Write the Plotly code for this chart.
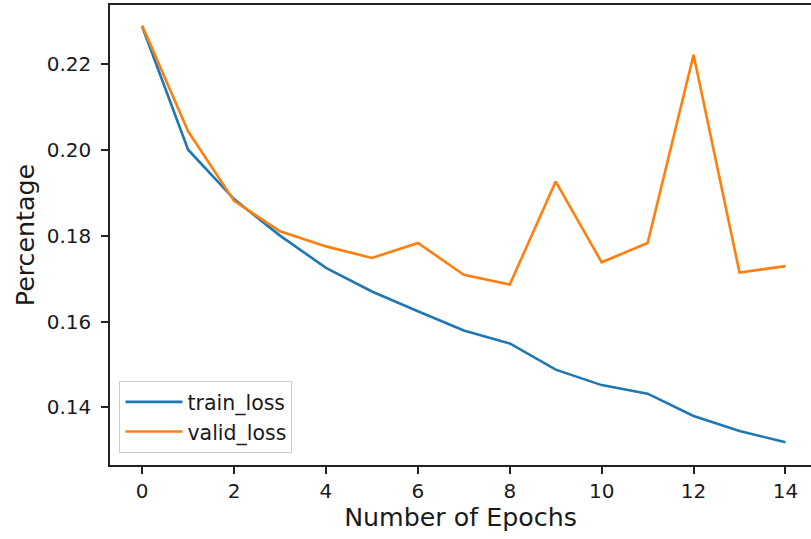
import plotly.graph_objects as go

# Loss per epoch
epochs = list(range(15))
train_loss = [0.2287, 0.2000, 0.1885, 0.1800, 0.1725, 0.1670, 0.1624, 0.1579,
              0.1549, 0.1488, 0.1452, 0.1432, 0.1380, 0.1345, 0.1319]
valid_loss = [0.2289, 0.2043, 0.1881, 0.1810, 0.1775, 0.1748, 0.1783, 0.1709,
              0.1686, 0.1926, 0.1738, 0.1783, 0.2221, 0.1714, 0.1729]
y_ticks = [0.14, 0.16, 0.18, 0.20, 0.22]
x_ticks = [0, 2, 4, 6, 8, 10, 12, 14]

W, H = 811, 539
L_MARGIN, T_MARGIN, B_MARGIN = 110, 5, 74
PX_PER_EPOCH = 45.95

# 5% padding on the left of the epoch range; right side runs to the page edge
x_lo = -0.05 * (max(epochs) - min(epochs))
x_hi = x_lo + (W - L_MARGIN) / PX_PER_EPOCH

FONT = "DejaVu Sans"
TXT = "#1a1a1a"

fig = go.Figure()
fig.add_trace(go.Scatter(x=epochs, y=train_loss, mode="lines", name="train_loss",
                         legendgroup="train",
                         line=dict(color="#1f77b4", width=2.6)))
fig.add_trace(go.Scatter(x=epochs, y=valid_loss, mode="lines", name="valid_loss",
                         legendgroup="valid",
                         line=dict(color="#ff7f0e", width=2.6)))

axis_common = dict(
    showgrid=False, zeroline=False, showline=True, linecolor="#222", linewidth=1.6,
    ticks="outside", ticklen=7, tickwidth=1.6, tickcolor="#222",
    tickfont=dict(family=FONT, size=20, color=TXT),
)

fig.update_layout(
    width=W, height=H,
    margin=dict(l=L_MARGIN, r=0, t=T_MARGIN, b=B_MARGIN, pad=0),
    paper_bgcolor="white", plot_bgcolor="white",
    showlegend=True,
    legend=dict(
        x=0.0135, y=0.026, xanchor="left", yanchor="bottom",
        bgcolor="rgba(255,255,255,0.8)", bordercolor="#cccccc", borderwidth=1,
        font=dict(family=FONT, size=20.5, color=TXT),
        itemwidth=57, tracegroupgap=0,
    ),
    xaxis=dict(
        range=[x_lo, x_hi], tickvals=x_ticks, mirror=True,
        title=dict(text="Number of Epochs", font=dict(family=FONT, size=25.3, color=TXT), standoff=6),
        ticklabelstandoff=0,
        **axis_common,
    ),
    yaxis=dict(
        range=[0.1266, 0.2337], tickvals=y_ticks, tickformat=".2f", mirror=False,
        title=dict(text="Percentage", font=dict(family=FONT, size=25.3, color=TXT), standoff=5),
        ticklabelstandoff=6,
        **axis_common,
    ),
)

fig.write_html("out.html")
